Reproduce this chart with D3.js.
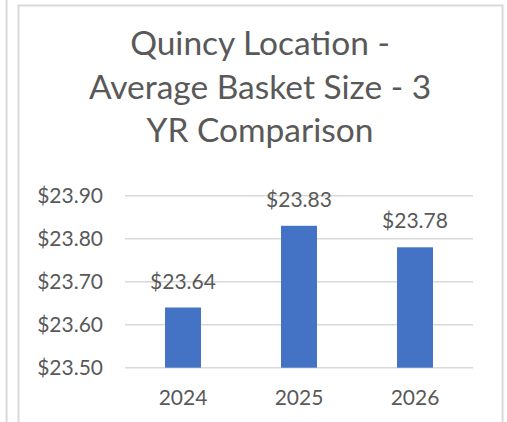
<!DOCTYPE html>
<html lang="en">
<head>
    <meta charset="UTF-8">
    <title>Quincy Location - Average Basket Size</title>
    <script src="https://d3js.org/d3.v7.min.js"></script>
    <style>
        body { margin: 0; background: #fff; }
        svg text { font-family: Lato, "Open Sans", sans-serif; fill: #595959; }
    </style>
</head>
<body>
<script>
// Data
const years = ["2024", "2025", "2026"];
const basketSize = [23.64, 23.83, 23.78];
const yTicks = [23.5, 23.6, 23.7, 23.8, 23.9];
const titleLines = ["Quincy Location -", "Average Basket Size - 3", "YR Comparison"];

const W = 507, H = 422;
const plot = {left: 125, right: 473, top: 195.7, bottom: 367.7};

const svg = d3.select("body").append("svg")
    .attr("width", W)
    .attr("height", H);

// Frame lines (neighbouring chart edge + this chart's border)
svg.append("line").attr("x1", 6.5).attr("x2", 6.5).attr("y1", 0).attr("y2", H)
    .attr("stroke", "#d9d9d9").attr("stroke-width", 2);
svg.append("path")
    .attr("d", `M18.5,${H} V5.5 H502.5 V${H}`)
    .attr("fill", "none").attr("stroke", "#d9d9d9").attr("stroke-width", 2);

// Title
svg.append("text")
    .attr("text-anchor", "middle")
    .style("font-size", "33.5px")
    .selectAll("tspan")
    .data(titleLines)
    .join("tspan")
    .attr("x", 260)
    .attr("y", (d, i) => 55 + i * 43.5)
    .text(d => d);

// Scales
const x = d3.scaleBand().domain(years).range([plot.left, plot.right]).paddingInner(0.69).paddingOuter(0.345);
const y = d3.scaleLinear().domain([23.5, 23.9]).range([plot.bottom, plot.top]);

// Gridlines
svg.append("g")
    .selectAll("line")
    .data(yTicks)
    .join("line")
    .attr("x1", plot.left)
    .attr("x2", plot.right)
    .attr("y1", d => y(d))
    .attr("y2", d => y(d))
    .attr("stroke", "#d9d9d9")
    .attr("stroke-width", 1.5);

// Y axis labels
const yAxis = svg.append("g")
    .attr("transform", `translate(${plot.left},0)`)
    .call(d3.axisLeft(y).tickValues(yTicks).tickSize(0).tickPadding(22).tickFormat(d => "$" + d3.format(".2f")(d)));
yAxis.select(".domain").remove();
yAxis.selectAll("text").style("font-size", "21px").attr("fill", "#595959");

// X axis labels
const xAxis = svg.append("g")
    .attr("transform", `translate(0,${plot.bottom})`)
    .call(d3.axisBottom(x).tickSize(0).tickPadding(22));
xAxis.select(".domain").remove();
xAxis.selectAll("text").style("font-size", "21px").attr("fill", "#595959");

// Bars
const data = years.map((yr, i) => ({year: yr, value: basketSize[i]}));
svg.append("g")
    .selectAll("rect")
    .data(data)
    .join("rect")
    .attr("x", d => x(d.year))
    .attr("y", d => y(d.value))
    .attr("width", x.bandwidth())
    .attr("height", d => y(23.5) - y(d.value))
    .attr("fill", "#4472c4");

// Data labels
svg.append("g")
    .selectAll("text")
    .data(data)
    .join("text")
    .attr("x", d => x(d.year) + x.bandwidth() / 2)
    .attr("y", d => y(d.value) - 19)
    .attr("text-anchor", "middle")
    .style("font-size", "21px")
    .text(d => "$" + d3.format(".2f")(d.value));
</script>
</body>
</html>
